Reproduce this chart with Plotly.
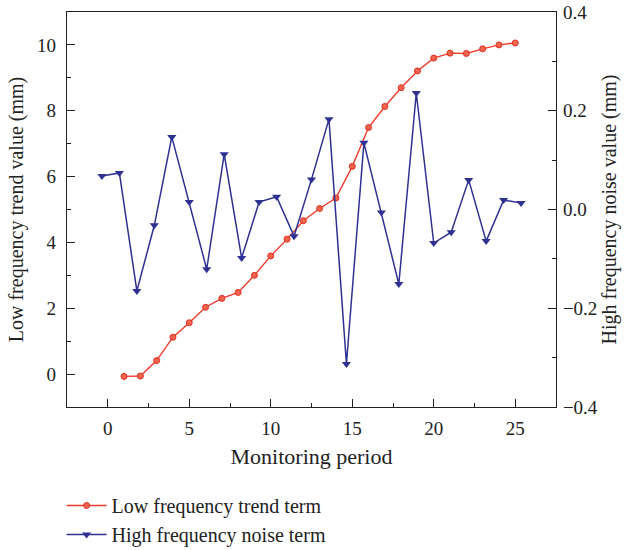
import plotly.graph_objects as go

# Low frequency trend term (left axis, mm)
low_period = list(range(1, 26))
low_values = [-0.07, -0.06, 0.41, 1.12, 1.56, 2.03, 2.30, 2.48, 3.00, 3.59,
              4.10, 4.66, 5.03, 5.35, 6.31, 7.49, 8.13, 8.70, 9.21, 9.60,
              9.75, 9.74, 9.88, 10.00, 10.06]

# High frequency noise term (right axis, mm)
high_period = list(range(1, 26))
high_values = [0.068, 0.074, -0.165, -0.032, 0.147, 0.015, -0.121, 0.112, -0.098, 0.015,
               0.026, -0.054, 0.061, 0.183, -0.313, 0.135, -0.006, -0.151, 0.236, -0.068,
               -0.046, 0.060, -0.064, 0.019, 0.013]

RED = "#ef3b2c"
BLUE = "#2e3192"
FONT = "Liberation Serif"
AX = "#222222"

fig = go.Figure()
fig.add_trace(go.Scatter(
    x=low_period, y=low_values, name="Low frequency trend term",
    mode="lines+markers",
    line=dict(color=RED, width=1.4),
    marker=dict(symbol="circle", size=6, color="#f26350", line=dict(color="#e0301e", width=1)),
    xaxis="x", yaxis="y",
))
fig.add_trace(go.Scatter(
    x=high_period, y=high_values, name="High frequency noise term",
    mode="lines+markers",
    line=dict(color=BLUE, width=1.5),
    marker=dict(symbol="triangle-down", size=8, color=BLUE),
    xaxis="x2", yaxis="y2",
))

fig.update_layout(
    width=626, height=550,
    margin=dict(l=67, r=70, t=12, b=143, autoexpand=False),
    paper_bgcolor="white", plot_bgcolor="white",
    font=dict(family=FONT, size=19, color="#222222"),
    showlegend=True,
    legend=dict(x=-0.011, xanchor="left", y=-0.2, yanchor="top",
                font=dict(family=FONT, size=20, color="#222222"),
                itemwidth=40, tracegroupgap=0, bgcolor="rgba(0,0,0,0)"),
    xaxis=dict(
        range=[-2.5, 27.5], dtick=5, tick0=0, automargin=False,
        showline=True, linecolor=AX, linewidth=1.2, mirror=True,
        ticks="inside", ticklen=8, tickwidth=1, tickcolor=AX,
        minor=dict(ticks="inside", ticklen=4, dtick=2.5, tick0=0, tickcolor=AX, showgrid=False),
        showgrid=False, zeroline=False,
        tickfont=dict(size=19), ticklabelstandoff=4,
        title=dict(text="Monitoring period", font=dict(size=22), standoff=10),
    ),
    xaxis2=dict(
        range=[-1, 27], overlaying="x", visible=False, showgrid=False, zeroline=False,
    ),
    yaxis=dict(
        range=[-1, 11], dtick=2, tick0=0, automargin=False,
        showline=True, linecolor=AX, linewidth=1.2, mirror=True,
        ticks="inside", ticklen=8, tickwidth=1, tickcolor=AX,
        minor=dict(ticks="inside", ticklen=4, dtick=1, tick0=0, tickcolor=AX, showgrid=False),
        showgrid=False, zeroline=False,
        tickfont=dict(size=19), ticklabelstandoff=6,
        title=dict(text="Low frequency trend value (mm)", font=dict(size=20), standoff=8),
    ),
    yaxis2=dict(
        range=[-0.4, 0.4], dtick=0.2, tick0=0, overlaying="y", side="right", anchor="x",
        tickformat=".1f", automargin=False,
        showline=True, linecolor=AX, linewidth=1.2,
        ticks="inside", ticklen=8, tickwidth=1, tickcolor=AX,
        minor=dict(ticks="inside", ticklen=4, dtick=0.1, tick0=0, tickcolor=AX, showgrid=False),
        showgrid=False, zeroline=False,
        tickfont=dict(size=19), ticklabelstandoff=2,
        title=dict(text="High frequency noise value (mm)", font=dict(size=20), standoff=5),
    ),
)

fig.write_html("out.html", config={"displayModeBar": False},
               post_script="document.body.style.margin='0';")
